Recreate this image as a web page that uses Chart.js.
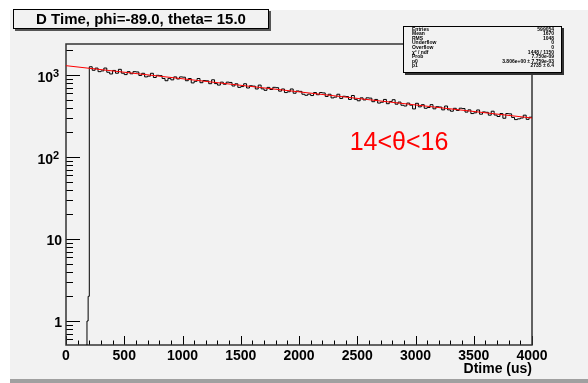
<!DOCTYPE html>
<html>
<head>
<meta charset="utf-8">
<script src="https://cdn.jsdelivr.net/npm/chart.js@4/dist/chart.umd.min.js"></script>
<style>
body{margin:0;background:#fff}
canvas{display:block}
</style>
</head>
<body>
<canvas id="dtime" width="588" height="383"></canvas>
<script>
// few stray entries before the main histogram (10 us bins)
const preStart=180
const preWidth=10
const preCounts=[1,2]

// main histogram, 25 us bins from 200 to 4000
const binStart=200
const binWidth=25
const counts=[
1262,1143,1215,1099, 1123,1217,1081,1030, 1138,1052,1174,1053, 1012,1099,1036,1099,
1090,988,1050,949, 970,1050,933,992, 983,908,852,910, 873,949,895,949,
941,852,906,801, 838,907,806,857, 850,784,875,786, 754,819,772,819,
812,735,782,707, 723,783,695,740, 732,676,754,678, 651,707,666,708,
701,636,676,611, 625,676,600,639, 632,583,566,585, 562,611,575,611,
605,548,583,526, 538,583,518,551, 546,504,563,505, 485,527,497,527,
523,473,504,455, 466,504,447,476, 500,441,468,428, 419,455,429,386,
452,409,435,393, 402,435,387,411, 407,376,419,376, 362,393,370,394,
390,353,376,339, 346,375,333,355, 351,324,362,325, 312,339,297,339,
336,304,286,292, 299,324,288,306
]

// exponential fit, straight on the log axis
const fitX=[0,4000]
const fitY=[1300,299]

const xMin=0
const xMax=4000
const yMin=0.51
const yMax=2390
const xTicks=[0,500,1000,1500,2000,2500,3000,3500,4000]
const xMinorStep=100
const yTicks=[1,10,100,1000]
const yTickBase=["1","10","10","10"]
const yTickExp=["","","2","3"]

const titleText="D Time, phi=-89.0, theta= 15.0"
const xTitle="Dtime (us)"
const cutText="14<θ<16"
const statNames=["Entries","Mean","RMS","Underflow","Overflow","χ² / ndf","Prob","p0","p1"]
const statValues=["599054","1670","1048","0","0","1448 / 1150","7.750e-09","3.806e+00 ± 7.759e-03","2735 ± 6.4"]

// build the step outline
let histPts=[{x:preStart,y:yMin}]
preCounts.forEach((v,i)=>histPts.push({x:preStart+i*preWidth,y:v}))
counts.forEach((v,i)=>histPts.push({x:binStart+i*binWidth,y:v}))
histPts.push({x:binStart+counts.length*binWidth,y:counts[counts.length-1]})

const fitPts=fitX.map((x,i)=>({x:x,y:fitY[i]}))

const FONT="'Liberation Sans', Arial, Helvetica, sans-serif"

const rootLook={
id:"rootLook",
beforeDraw(chart){
let c=chart.ctx
c.save()
c.fillStyle="#fff"
c.fillRect(0,0,588,383)
c.fillStyle="#f2f2f2"
c.fillRect(10,10,578,369)
c.fillStyle="#a0a0a0"
c.fillRect(10,379,578,4)
c.restore()
},
beforeDatasetsDraw(chart){
let c=chart.ctx
let a=chart.chartArea
let xs=chart.scales.x
let ys=chart.scales.y
c.save()
c.strokeStyle="#000"
c.lineWidth=1
// x ticks, inside the frame
for(let v=xMin;v<=xMax;v+=xMinorStep){
let px=Math.round(xs.getPixelForValue(v))+0.5
let len=xTicks.includes(v)?9:4.5
c.beginPath()
c.moveTo(px,a.bottom)
c.lineTo(px,a.bottom-len)
c.stroke()
}
// y ticks
for(let d=0.1;d<=1000;d*=10){
for(let m=1;m<=9;m++){
let v=Math.round(m*d*10)/10
if(v<yMin||v>yMax)continue
let py=Math.round(ys.getPixelForValue(v))+0.5
let len=m==1?14:7
c.beginPath()
c.moveTo(a.left,py)
c.lineTo(a.left+len,py)
c.stroke()
}
}
// frame
c.strokeStyle="#333"
c.lineWidth=1.5
c.strokeRect(a.left,a.top,a.right-a.left,a.bottom-a.top)

// labels
c.fillStyle="#000"
c.font="bold 14px "+FONT
c.textAlign="center"
c.textBaseline="alphabetic"
xTicks.forEach(v=>{
c.fillText(String(v),xs.getPixelForValue(v),360)
})
yTicks.forEach((v,i)=>{
let py=ys.getPixelForValue(v)
if(yTickExp[i]==""){
c.font="bold 14px "+FONT
c.textAlign="right"
c.fillText(yTickBase[i],62,py+6)
}else{
c.font="bold 14px "+FONT
c.textAlign="right"
c.fillText(yTickBase[i],53,py+7)
c.font="bold 11px "+FONT
c.textAlign="left"
c.fillText(yTickExp[i],53,py+2)
}
})
c.font="bold 14px "+FONT
c.textAlign="right"
c.fillText(xTitle,a.right,373)
c.restore()
},
afterDraw(chart){
let c=chart.ctx
c.save()
// title box
c.fillStyle="#555"
c.fillRect(15,11,256,20)
c.fillStyle="#f2f2f2"
c.fillRect(13,9,256,20)
c.strokeStyle="#000"
c.lineWidth=1
c.strokeRect(13.5,9.5,255,19)
c.fillStyle="#000"
c.font="bold 15px "+FONT
c.textAlign="center"
c.textBaseline="alphabetic"
c.fillText(titleText,141,23.5)

// stats box
c.fillStyle="#333"
c.fillRect(405,28,159,47)
c.fillStyle="#f2f2f2"
c.fillRect(403,26,159,47)
c.strokeStyle="#000"
c.strokeRect(403.5,26.5,158,46)
c.fillStyle="#000"
c.font="bold 5px "+FONT
statNames.forEach((s,i)=>{
let y=30.5+i*4.6
c.textAlign="left"
c.fillText(s,412,y)
c.textAlign="right"
c.fillText(statValues[i],554,y)
})

// cut label
c.fillStyle="#ff0000"
c.font="25px "+FONT
c.textAlign="center"
c.fillText(cutText,399,150)
c.restore()
}
}

new Chart(
document.getElementById("dtime"),
{
type:"line",
data:{
datasets:[
{
label:"fit",
data:fitPts,
borderColor:"#ff0000",
borderWidth:1,
pointRadius:0,
tension:0
},
{
label:"Dtime",
data:histPts,
borderColor:"#000",
borderWidth:1,
pointRadius:0,
stepped:true
}
]
},
options:{
responsive:false,
animation:false,
devicePixelRatio:1,
layout:{padding:{left:66,top:44,right:56,bottom:38}},
plugins:{legend:{display:false},tooltip:{enabled:false},title:{display:false}},
scales:{
x:{type:"linear",min:xMin,max:xMax,bounds:"data",
ticks:{display:false},grid:{display:false},border:{display:false},
afterFit(s){s.height=0}},
y:{type:"logarithmic",min:yMin,max:yMax,bounds:"data",
ticks:{display:false},grid:{display:false},border:{display:false},
afterFit(s){s.width=0}}
}
},
plugins:[rootLook]
})
</script>
</body>
</html>
